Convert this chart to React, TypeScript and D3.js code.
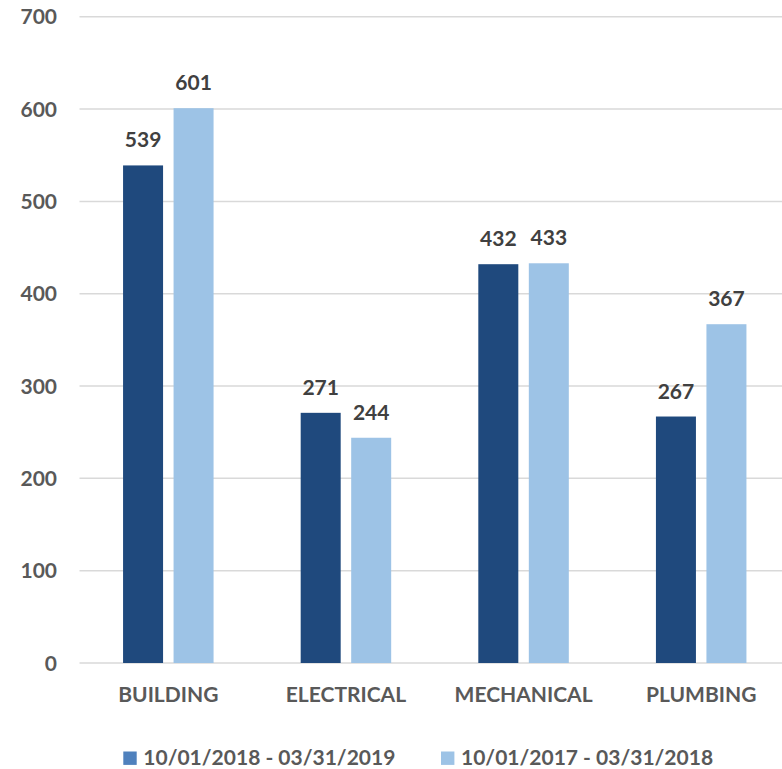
import React from "react";
import * as d3 from "d3";

const categories = ["BUILDING", "ELECTRICAL", "MECHANICAL", "PLUMBING"];
const seriesNames = ["10/01/2018 - 03/31/2019", "10/01/2017 - 03/31/2018"];
const series2019 = [539, 271, 432, 267];
const series2018 = [601, 244, 433, 367];
const yTicks = [0, 100, 200, 300, 400, 500, 600, 700];

const W = 782;
const H = 769;
const barColors = ["#1F497D", "#9DC3E6"];
const legendColors = ["#4F81BD", "#9DC3E6"];
const textColor = "#595959";
const font = "Lato, 'Open Sans', sans-serif";

export default function App() {
  const x = d3.scaleBand<string>().domain(categories).range([79.5, 790]).paddingInner(0).paddingOuter(0);
  const y = d3.scaleLinear().domain([0, 700]).range([663, 16.8]);
  const bandW = x.bandwidth();
  const barW = 40;
  const gap = 10.5;
  const data = [series2019, series2018];

  return (
    <svg width={W} height={H} style={{ position: "absolute", left: 0, top: 0, background: "#fff" }}>
      {yTicks.map((t) => (
        <g key={t}>
          <line x1={79.5} x2={W} y1={y(t)} y2={y(t)} stroke="#D9D9D9" strokeWidth={1.5} />
          <text x={57} y={y(t)} dy="0.36em" textAnchor="end" fontFamily={font} fontWeight={700} fontSize={21} fill={textColor}>
            {t}
          </text>
        </g>
      ))}
      {categories.map((c, i) => {
        const cx = (x(c) as number) + bandW / 2;
        return (
          <g key={c}>
            {data.map((s, si) => {
              const bx = si === 0 ? cx - gap / 2 - barW : cx + gap / 2;
              return (
                <g key={si}>
                  <rect x={bx} y={y(s[i])} width={barW} height={y(0) - y(s[i])} fill={barColors[si]} />
                  <text x={bx + barW / 2} y={y(s[i]) - 18} textAnchor="middle" fontFamily={font} fontWeight={700} fontSize={21} fill="#404040">
                    {s[i]}
                  </text>
                </g>
              );
            })}
            <text x={cx} y={701.5} textAnchor="middle" fontFamily={font} fontWeight={700} fontSize={21} fill={textColor}>
              {c}
            </text>
          </g>
        );
      })}
      {seriesNames.map((n, i) => {
        const lx = i === 0 ? 123.3 : 441;
        return (
          <g key={n}>
            <rect x={lx} y={751.5} width={13.4} height={13.4} fill={legendColors[i]} />
            <text x={lx + 20} y={765} fontFamily={font} fontWeight={700} fontSize={21} fill={textColor}>
              {n}
            </text>
          </g>
        );
      })}
    </svg>
  );
}
